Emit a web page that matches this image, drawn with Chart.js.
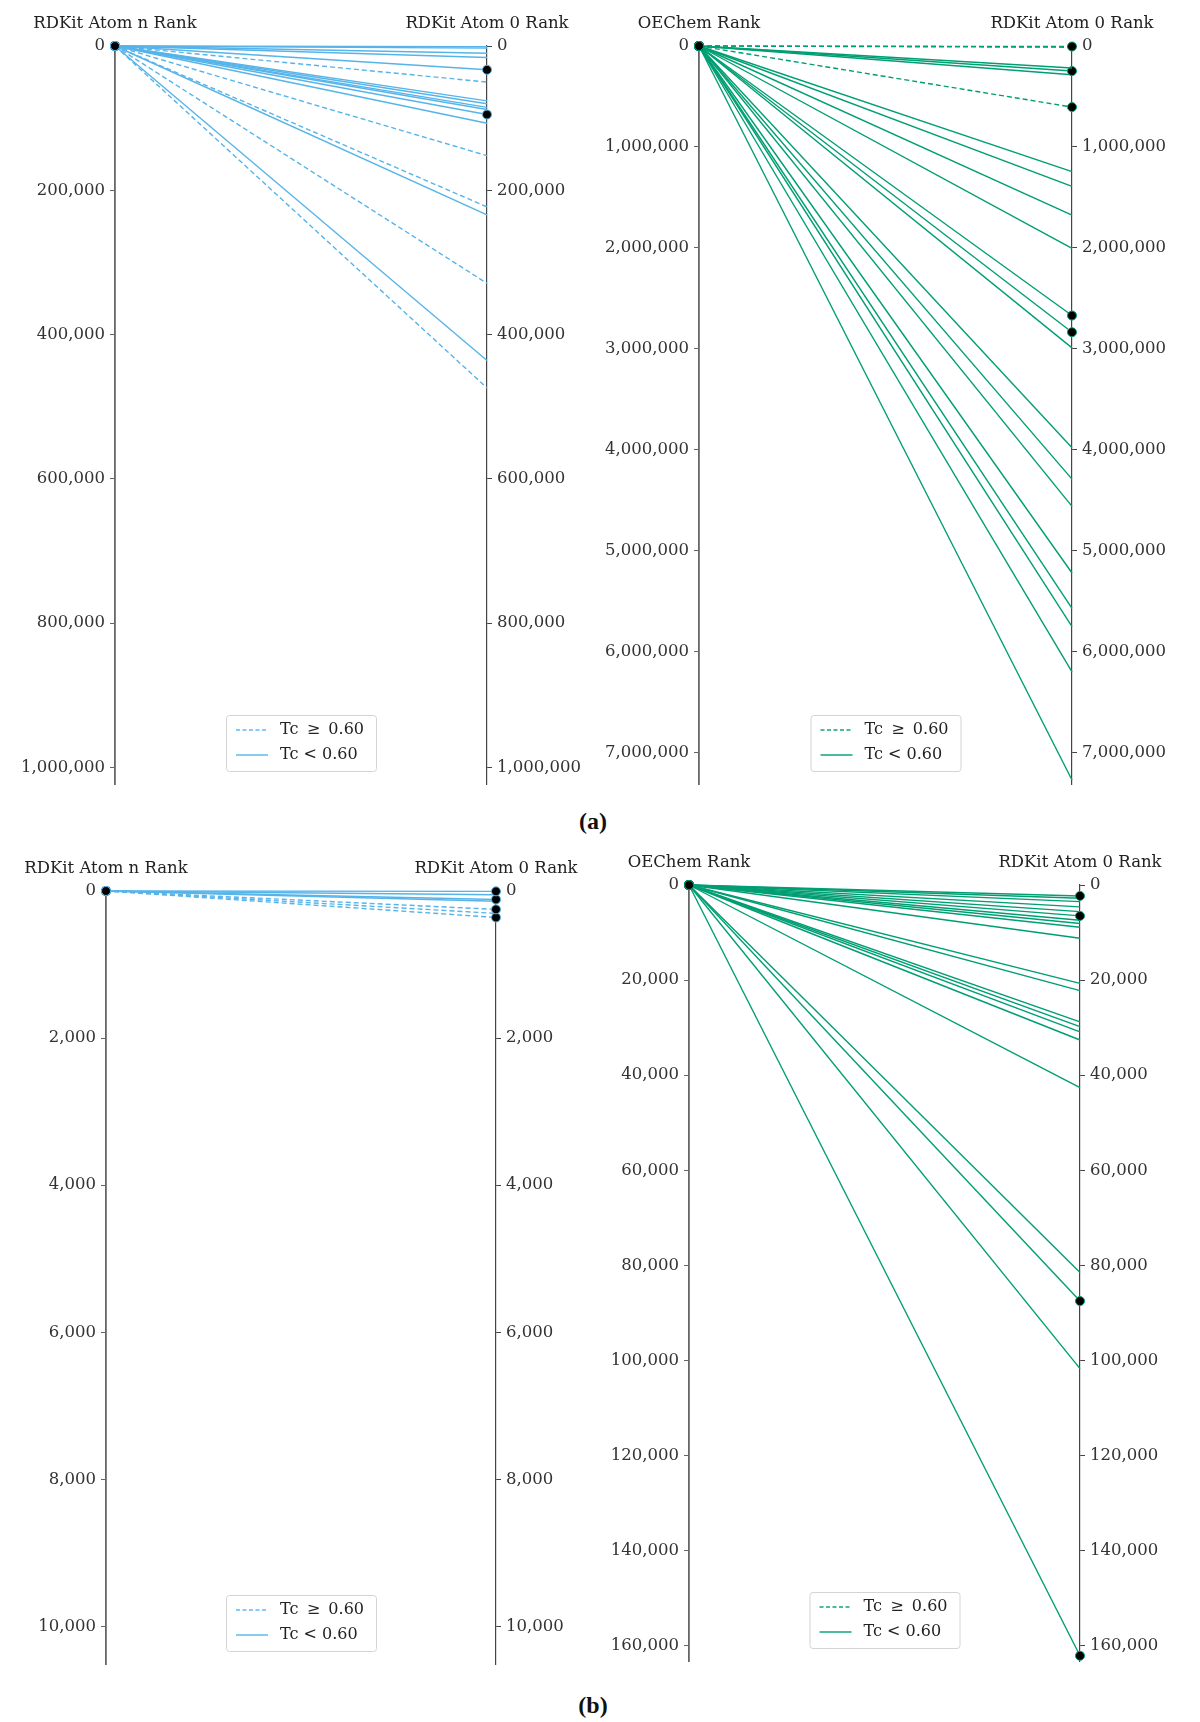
<!DOCTYPE html>
<html>
<head>
<meta charset="utf-8">
<script src="https://cdn.jsdelivr.net/npm/chart.js@4.4.0/dist/chart.umd.min.js"></script>
<style>
  html, body { margin: 0; padding: 0; background: #fff; }
  body { width: 1200px; height: 1722px; position: relative; overflow: hidden; }
  .panel { position: absolute; }
  .tag { position: absolute; font-family: 'Liberation Serif', serif; font-weight: bold; font-size: 24px; color: #111; transform: translate(-50%, -50%); }
</style>
</head>
<body>
<div class="panel" id="boxA1"><canvas id="chartA1"></canvas></div>
<div class="panel" id="boxA2"><canvas id="chartA2"></canvas></div>
<div class="panel" id="boxB1"><canvas id="chartB1"></canvas></div>
<div class="panel" id="boxB2"><canvas id="chartB2"></canvas></div>
<div class="tag" style="left:593px; top:821px">(a)</div>
<div class="tag" style="left:593px; top:1705px">(b)</div>
<script>
// ranks; every line starts at rank ~0 on the left axis
// (a) left: RDKit Atom n -> RDKit Atom 0
const aLeftStart = 0;
const aLeftHigh = [50000, 152000, 223000, 329000, 474000];          // Tc >= 0.60
const aLeftLow = [1000, 3000, 10000, 16000, 33000, 76000, 80000, 85000, 88000, 95000, 107000, 234000, 436000]; // Tc < 0.60
const aLeftMarked = [33000, 95000];
const aLeftTicks = [0, 200000, 400000, 600000, 800000, 1000000];
const aLeftMax = 1023000;

// (a) right: OEChem -> RDKit Atom 0
const aRightStart = 0;
const aRightHigh = [5000, 12000, 605000];
const aRightLow = [218000, 248000, 285000, 1245000, 1390000, 1675000, 2005000, 2670000, 2835000, 2990000,
                   3980000, 4290000, 4560000, 5220000, 5570000, 5750000, 6200000, 7270000];
const aRightMarked = [5000, 248000, 605000, 2670000, 2835000];
const aRightTicks = [0, 1000000, 2000000, 3000000, 4000000, 5000000, 6000000, 7000000];
const aRightMax = 7310000;

// (b) left: RDKit Atom n -> RDKit Atom 0
const bLeftStart = 0;
const bLeftHigh = [250, 305, 360];
const bLeftLow = [5, 50, 115, 140];
const bLeftMarked = [5, 115, 250, 360];
const bLeftTicks = [0, 2000, 4000, 6000, 8000, 10000];
const bLeftMax = 10510;

// (b) right: OEChem -> RDKit Atom 0
const bRightStart = 0;
const bRightHigh = [];
const bRightLow = [2300, 2800, 3500, 4600, 5600, 6500, 7400, 8100, 8900, 11200, 20700, 22200,
                   28800, 29800, 30900, 32600, 42600, 81500, 87500, 101700, 162100];
const bRightMarked = [2300, 6500, 87500, 162100];
const bRightTicks = [0, 20000, 40000, 60000, 80000, 100000, 120000, 140000, 160000];
const bRightMax = 163200;

const BLUE = '#56B4E9';
const GREEN = '#009E73';
const FONT = 'DejaVu Serif';
const SIDE = 100, PAD_TOP = 45, PAD_BOTTOM = 15;

// titles above each axis
const axisTitles = {
  id: 'axisTitles',
  afterDraw(chart, args, opts) {
    const { ctx, chartArea } = chart;
    ctx.save();
    ctx.font = '16.5px "' + FONT + '"';
    ctx.fillStyle = '#222';
    ctx.textAlign = 'center';
    ctx.textBaseline = 'middle';
    ctx.fillText(opts.left, chartArea.left, chartArea.top - 22);
    ctx.fillText(opts.right, chartArea.right, chartArea.top - 22);
    ctx.restore();
  }
};

// matplotlib-like legend box, lower center inside the plot
const innerLegend = {
  id: 'innerLegend',
  afterDraw(chart, args, opts) {
    const { ctx, chartArea } = chart;
    const w = 150, h = 56;
    const x = (chartArea.left + chartArea.right) / 2 - w / 2;
    const y = chartArea.bottom - 13 - h;
    ctx.save();
    ctx.fillStyle = 'rgba(255,255,255,0.85)';
    ctx.strokeStyle = '#d4d4d4';
    ctx.lineWidth = 1;
    ctx.beginPath();
    ctx.roundRect(x + 0.5, y + 0.5, w, h, 3);
    ctx.fill();
    ctx.stroke();
    const rows = [{ text: 'Tc \u2009\u2265\u2009 0.60', dash: [4, 2.5] }, { text: 'Tc < 0.60', dash: [] }];
    rows.forEach((r, i) => {
      const yy = y + 15 + i * 25;
      ctx.globalAlpha = 0.7;
      ctx.strokeStyle = opts.color;
      ctx.lineWidth = 2;
      ctx.setLineDash(r.dash);
      ctx.beginPath();
      ctx.moveTo(x + 10, yy);
      ctx.lineTo(x + 42, yy);
      ctx.stroke();
      ctx.globalAlpha = 1;
      ctx.setLineDash([]);
      ctx.font = '16px "' + FONT + '"';
      ctx.fillStyle = '#222';
      ctx.textAlign = 'left';
      ctx.textBaseline = 'middle';
      ctx.fillText(r.text, x + 54, yy);
    });
    ctx.restore();
  }
};

function lineSet(start, end, dashed, marked, color) {
  return {
    data: [{ x: 0, y: start }, { x: 1, y: end }],
    borderColor: color,
    borderWidth: 1.4,
    borderDash: dashed ? [5, 3] : [],
    pointRadius: [4.5, marked ? 4.5 : 0],
    pointBackgroundColor: '#000',
    pointBorderColor: color,
    pointBorderWidth: 1,
    clip: false
  };
}

function yAxis(position, max, ticks, color, width) {
  return {
    type: 'linear',
    position: position,
    min: 0,
    max: max,
    reverse: true,
    afterBuildTicks: s => { s.ticks = ticks.map(v => ({ value: v })); },
    afterFit: s => { s.width = SIDE; },
    border: { display: true, color: color, width: width },
    grid: { drawOnChartArea: false, drawTicks: true, tickLength: 5, color: color, tickWidth: 1 },
    ticks: {
      color: '#333',
      padding: 5,
      font: { family: FONT, size: 16.5 },
      callback: v => Number(v).toLocaleString('en-US')
    }
  };
}

function makePanel(id, box, p) {
  const el = document.getElementById('box' + id);
  el.style.left = (box.L - SIDE) + 'px';
  el.style.top = (box.T - PAD_TOP) + 'px';
  el.style.width = (box.R - box.L + 2 * SIDE) + 'px';
  el.style.height = (box.B - box.T + PAD_TOP + PAD_BOTTOM) + 'px';

  const sets = [];
  p.low.forEach(v => sets.push(lineSet(p.start, v, false, p.marked.includes(v), p.color)));
  p.high.forEach(v => sets.push(lineSet(p.start, v, true, p.marked.includes(v), p.color)));

  new Chart(document.getElementById('chart' + id), {
    type: 'line',
    data: { datasets: sets },
    options: {
      responsive: true,
      maintainAspectRatio: false,
      animation: false,
      events: [],
      layout: { padding: { top: PAD_TOP, bottom: PAD_BOTTOM, left: 0, right: 0 } },
      scales: {
        x: { type: 'linear', min: 0, max: 1, display: false },
        y: yAxis('left', p.max, p.ticks, '#666', 1.8),
        y2: yAxis('right', p.max, p.ticks, '#444', 1.2)
      },
      plugins: {
        legend: { display: false },
        tooltip: { enabled: false },
        axisTitles: { left: p.leftTitle, right: p.rightTitle },
        innerLegend: { color: p.color }
      }
    },
    plugins: [axisTitles, innerLegend]
  });
}

makePanel('A1', { L: 115, R: 487, T: 46, B: 784 }, {
  start: aLeftStart, high: aLeftHigh, low: aLeftLow, marked: aLeftMarked,
  ticks: aLeftTicks, max: aLeftMax, color: BLUE,
  leftTitle: 'RDKit Atom n Rank', rightTitle: 'RDKit Atom 0 Rank'
});
makePanel('A2', { L: 699, R: 1072, T: 46, B: 784 }, {
  start: aRightStart, high: aRightHigh, low: aRightLow, marked: aRightMarked,
  ticks: aRightTicks, max: aRightMax, color: GREEN,
  leftTitle: 'OEChem Rank', rightTitle: 'RDKit Atom 0 Rank'
});
makePanel('B1', { L: 106, R: 496, T: 891, B: 1664 }, {
  start: bLeftStart, high: bLeftHigh, low: bLeftLow, marked: bLeftMarked,
  ticks: bLeftTicks, max: bLeftMax, color: BLUE,
  leftTitle: 'RDKit Atom n Rank', rightTitle: 'RDKit Atom 0 Rank'
});
makePanel('B2', { L: 689, R: 1080, T: 885, B: 1661 }, {
  start: bRightStart, high: bRightHigh, low: bRightLow, marked: bRightMarked,
  ticks: bRightTicks, max: bRightMax, color: GREEN,
  leftTitle: 'OEChem Rank', rightTitle: 'RDKit Atom 0 Rank'
});
</script>
</body>
</html>
